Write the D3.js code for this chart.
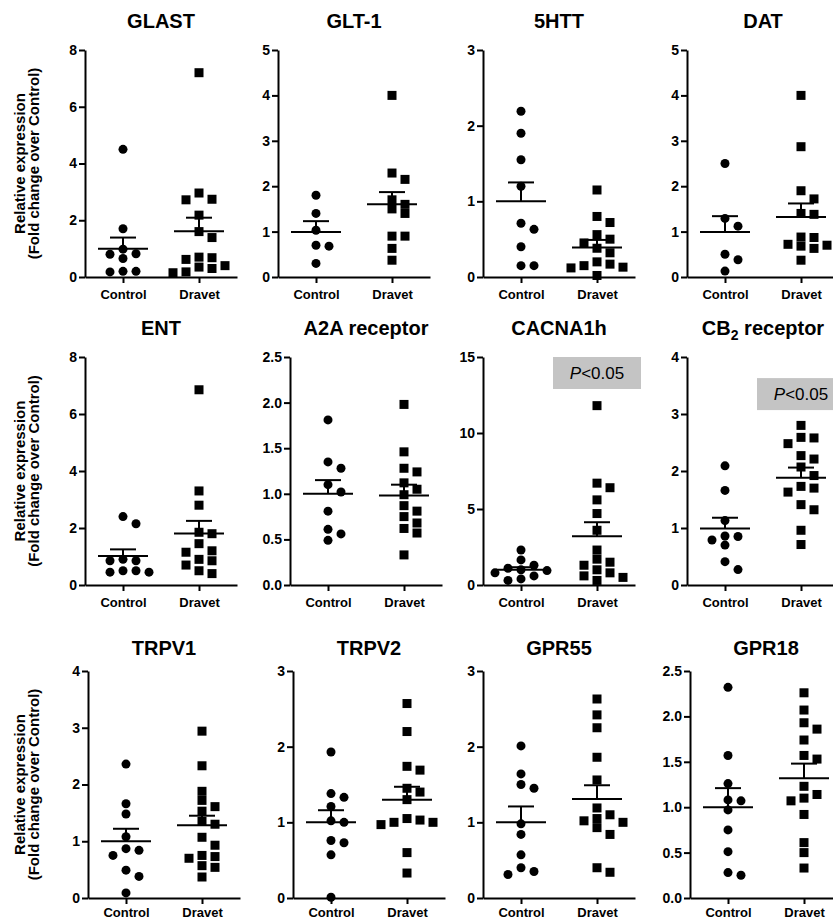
<!DOCTYPE html>
<html><head><meta charset="utf-8">
<script src="https://cdn.jsdelivr.net/npm/d3@7/dist/d3.min.js"></script>
<style>body{margin:0;background:#fff} svg{display:block} text{font-family:"Liberation Sans",Arial,sans-serif}</style>
</head><body>
<svg id="c" width="833" height="921"></svg>
<script>
// ---------- DATA ----------
const groups = ["Control", "Dravet"];
const titles = ["GLAST","GLT-1","5HTT","DAT","ENT","A2A receptor","CACNA1h","CB_2 receptor","TRPV1","TRPV2","GPR55","GPR18"];
const yMax = [8, 5, 3, 5, 8, 2.5, 15, 4, 4, 3, 3, 2.5];
const yTickStep = [2, 1, 1, 1, 2, 0.5, 5, 1, 1, 1, 1, 0.5];

const controlValues = [
  [4.5, 1.7, 0.98, 0.82, 0.8, 0.65, 0.2, 0.2, 0.18],
  [1.8, 1.4, 1.03, 0.7, 0.68, 0.3],
  [2.19, 1.9, 1.55, 1.2, 0.71, 0.63, 0.4, 0.15, 0.15],
  [2.5, 1.29, 1.12, 0.5, 0.38, 0.13],
  [2.4, 2.15, 0.9, 0.85, 0.85, 0.5, 0.45, 0.45, 0.5],
  [1.81, 1.35, 1.28, 1.10, 1.02, 0.81, 0.61, 0.56, 0.49],
  [2.3, 1.65, 1.3, 1.1, 1.0, 0.95, 0.8, 0.6, 0.4, 0.3],
  [2.09, 1.66, 1.13, 0.86, 0.85, 0.79, 0.70, 0.41, 0.27],
  [2.36, 1.66, 1.48, 1.08, 0.87, 0.84, 0.75, 0.49, 0.38, 0.09],
  [1.93, 1.38, 1.33, 1.21, 1.02, 1.0, 0.76, 0.73, 0.57, 0.01],
  [2.01, 1.64, 1.5, 1.45, 0.98, 0.84, 0.57, 0.40, 0.35, 0.31],
  [2.32, 1.57, 1.26, 1.07, 1.08, 0.97, 0.75, 0.51, 0.25, 0.28]
];
const dravetValues = [
  [7.2, 2.96, 2.74, 2.72, 2.18, 1.6, 1.39, 0.7, 0.68, 0.62, 0.4, 0.35, 0.3, 0.18, 0.15],
  [4.0, 2.29, 2.15, 1.7, 1.6, 1.5, 1.4, 0.9, 0.9, 0.63, 0.37],
  [1.15, 0.8, 0.72, 0.56, 0.5, 0.45, 0.38, 0.32, 0.2, 0.17, 0.15, 0.13, 0.12, 0.02],
  [4.0, 2.87, 1.9, 1.72, 1.4, 1.38, 0.88, 0.87, 0.72, 0.7, 0.68, 0.63, 0.37],
  [6.85, 3.3, 2.8, 1.85, 1.8, 1.45, 1.2, 1.15, 0.9, 0.85, 0.7, 0.5, 0.4],
  [1.98, 1.46, 1.28, 1.24, 1.12, 1.05, 0.99, 0.87, 0.81, 0.75, 0.68, 0.62, 0.57, 0.33],
  [11.8, 6.7, 6.4, 5.6, 4.7, 3.6, 2.3, 1.7, 1.5, 1.3, 1.0, 0.8, 0.6, 0.5, 0.3],
  [2.8, 2.59, 2.58, 2.48, 2.27, 2.21, 2.07, 1.92, 1.70, 1.73, 1.63, 1.41, 1.32, 0.96, 0.71],
  [2.94, 2.33, 1.88, 1.72, 1.61, 1.53, 1.35, 1.3, 1.07, 0.93, 0.75, 0.73, 0.7, 0.57, 0.54, 0.37],
  [2.57, 2.2, 1.74, 1.69, 1.45, 1.40, 1.3, 1.05, 1.03, 1.0, 1.0, 0.97, 0.6, 0.33],
  [2.63, 2.42, 2.25, 1.86, 1.56, 1.19, 1.1, 1.05, 1.02, 1.0, 0.93, 0.84, 0.4, 0.34],
  [2.26, 2.07, 1.93, 1.86, 1.74, 1.57, 1.53, 1.23, 1.14, 1.10, 1.07, 0.92, 0.61, 0.50, 0.33]
];
const controlMean = [1.0, 0.99, 1.0, 0.99, 1.02, 1.0, 1.0, 0.99, 1.0, 1.0, 1.0, 1.0];
const controlSEM  = [0.39, 0.24, 0.25, 0.35, 0.23, 0.15, 0.17, 0.19, 0.22, 0.16, 0.21, 0.21];
const dravetMean  = [1.61, 1.6, 0.39, 1.32, 1.81, 0.98, 3.2, 1.88, 1.28, 1.3, 1.31, 1.32];
const dravetSEM   = [0.48, 0.27, 0.10, 0.30, 0.44, 0.12, 0.93, 0.18, 0.17, 0.17, 0.18, 0.16];

const sigPanels = [6, 7];
const sigBoxTop = [15, 3.63];
const sigLabel = ["P", "<0.05"];
const yLabelLines = ["Relative expression", "(Fold change over Control)"];

// ---------- LAYOUT ----------
const axisX = [85, 278, 483, 687, 85, 290, 483, 687, 88, 293, 483, 690];
const rowTop = [50, 357, 671];
const rowBottom = [277, 585, 898];
const titleY = [28, 335, 655];
const xLabelPad = [7, 7, 4];
const plotW = 152;
const font = '"Liberation Sans", Arial, sans-serif';

const svg = d3.select("#c");
svg.append("rect").attr("width", 833).attr("height", 921).attr("fill", "#fff");

function swarm(vals, yScale, step, sym) {
  const placed = [];
  const sorted = vals.map(v => v).sort((a, b) => b - a);
  const order = [0, 1, -1, 2, -2, 3, -3, 4, -4];
  sorted.forEach(v => {
    const py = yScale(v);
    for (const k of order) {
      const px = k * step;
      const hit = placed.some(p => Math.abs(p.x - px) < step * 0.9 && Math.abs(p.y - py) < sym);
      if (!hit) { placed.push({ x: px, y: py, v }); break; }
    }
  });
  return placed;
}

titles.forEach((t, i) => {
  const r = Math.floor(i / 4);
  const x0 = axisX[i];
  const y = d3.scaleLinear().domain([0, yMax[i]]).range([rowBottom[r], rowTop[r]]);
  const x = d3.scalePoint().domain(groups).range([0, plotW]).padding(0.5);
  const g = svg.append("g").attr("transform", `translate(${x0},0)`);

  // title
  const tt = g.append("text").attr("x", plotW / 2).attr("y", titleY[r])
    .attr("text-anchor", "middle").attr("font-weight", "bold").attr("font-size", 20)
    .attr("font-family", font).attr("fill", "#000");
  const parts = t.split(/_(\d)/);
  parts.forEach((p, j) => {
    if (j % 2 === 1) tt.append("tspan").attr("font-size", 14).attr("dy", 5).text(p);
    else tt.append("tspan").attr("dy", j > 0 ? -5 : 0).text(p);
  });

  // axes
  const ticks = d3.range(0, yMax[i] + 1e-9, yTickStep[i]);
  const fmt = yTickStep[i] < 1 ? d3.format(".1f") : d3.format("d");
  const ya = g.append("g").call(d3.axisLeft(y).tickValues(ticks).tickFormat(fmt).tickSize(6).tickSizeOuter(0).tickPadding(2));
  const xa = g.append("g").attr("transform", `translate(0,${rowBottom[r]})`)
    .call(d3.axisBottom(x).tickSize(6).tickSizeOuter(0).tickPadding(xLabelPad[r]));
  [ya, xa].forEach(a => {
    a.select(".domain").attr("stroke", "#000").attr("stroke-width", 2);
    a.selectAll(".tick line").attr("stroke", "#000").attr("stroke-width", 2);
    a.selectAll(".tick text").attr("fill", "#000").attr("font-weight", "bold")
      .attr("font-family", font);
  });
  ya.selectAll(".tick text").attr("font-size", 14);
  xa.selectAll(".tick text").attr("font-size", 13);

  // points
  const cpts = swarm(controlValues[i], y, 13, 9);
  const dpts = swarm(dravetValues[i], y, 13, 9);
  const cx = x("Control"), dx = x("Dravet");
  g.selectAll(".c").data(cpts).join("circle")
    .attr("cx", d => cx + d.x).attr("cy", d => d.y).attr("r", 4.5).attr("fill", "#000");
  g.selectAll(".d").data(dpts).join("rect")
    .attr("x", d => dx + d.x - 4.5).attr("y", d => d.y - 4.5).attr("width", 9).attr("height", 9).attr("fill", "#000");

  // mean + SEM
  [[cx, controlMean[i], controlSEM[i]], [dx, dravetMean[i], dravetSEM[i]]].forEach(([mx, m, s]) => {
    const ln = (x1, y1, x2, y2) => g.append("line").attr("x1", x1).attr("y1", y1).attr("x2", x2).attr("y2", y2)
      .attr("stroke", "#000").attr("stroke-width", 2);
    ln(mx - 25, y(m), mx + 25, y(m));
    ln(mx, y(m), mx, y(m + s));
    ln(mx - 13, y(m + s), mx + 13, y(m + s));
  });

  // significance box
  const si = sigPanels.indexOf(i);
  if (si >= 0) {
    const by = y(sigBoxTop[si]);
    g.append("rect").attr("x", dx - 44).attr("y", by).attr("width", 88).attr("height", 32).attr("fill", "#c4c4c4");
    const st = g.append("text").attr("x", dx).attr("y", by + 22).attr("text-anchor", "middle")
      .attr("font-size", 17).attr("font-family", font).attr("fill", "#000");
    st.append("tspan").attr("font-style", "italic").text(sigLabel[0]);
    st.append("tspan").text(sigLabel[1]);
  }

  // y label
  if (i % 4 === 0) {
    const cyy = (rowTop[r] + rowBottom[r]) / 2;
    const lt = g.append("text").attr("transform", `translate(${-x0 + 25},${cyy}) rotate(-90)`)
      .attr("text-anchor", "middle").attr("font-weight", "bold").attr("font-size", 15)
      .attr("font-family", font).attr("fill", "#000");
    yLabelLines.forEach((l, j) => lt.append("tspan").attr("x", 0).attr("dy", j ? 14 : 0).text(l));
  }
});
</script>
</body></html>
